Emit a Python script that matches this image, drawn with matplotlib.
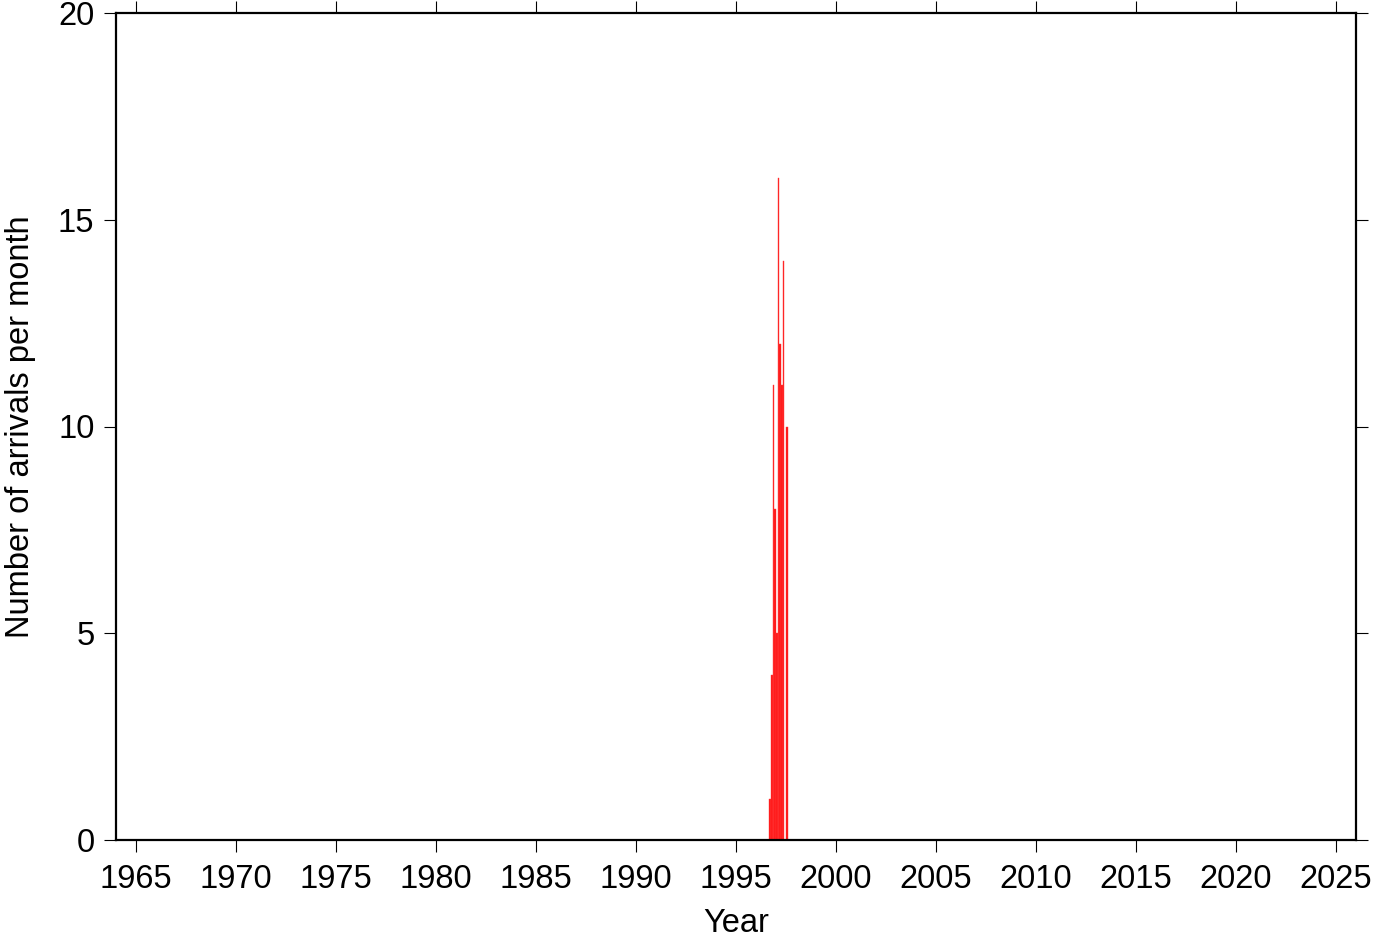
import matplotlib.pyplot as plt

plt.rcParams['font.family'] = ['Liberation Sans', 'DejaVu Sans']

# monthly arrival counts, Sep 1996 - Jul 1997
years = [1996, 1996, 1996, 1996, 1997, 1997, 1997, 1997, 1997, 1997, 1997]
months = [9, 10, 11, 12, 1, 2, 3, 4, 5, 6, 7]
counts = [1, 4, 11, 8, 5, 16, 12, 11, 14, 0, 10]

xticks = list(range(1965, 2030, 5))
yticks = [0, 5, 10, 15, 20]

starts = [y + (m - 1) / 12 for y, m in zip(years, months)]

fig = plt.figure(figsize=(13.82, 9.42), dpi=100)
ax = fig.add_axes([116 / 1382, 1 - 840 / 942, 1240 / 1382, 827 / 942])

ax.bar(starts, counts, width=1 / 12, align='edge', color='#ff1414',
       edgecolor='#ff4040', linewidth=0.3)

ax.set_xlim(1964, 2026)
ax.set_ylim(0, 20)
ax.set_xticks(xticks)
ax.set_yticks(yticks)

for s in ax.spines.values():
    s.set_linewidth(1.6)

ax.tick_params(axis='both', direction='out', length=8.5, width=0.8,
               labelsize=23.5, pad=7)
ax.tick_params(axis='x', top=True, pad=8.5)
ax.tick_params(axis='y', right=True)

ax.set_xlabel('Year', fontsize=23.5, labelpad=10)
ax.set_ylabel('Number of arrivals per month', fontsize=23.5, labelpad=16)

fig.savefig('out.png', dpi=100)
